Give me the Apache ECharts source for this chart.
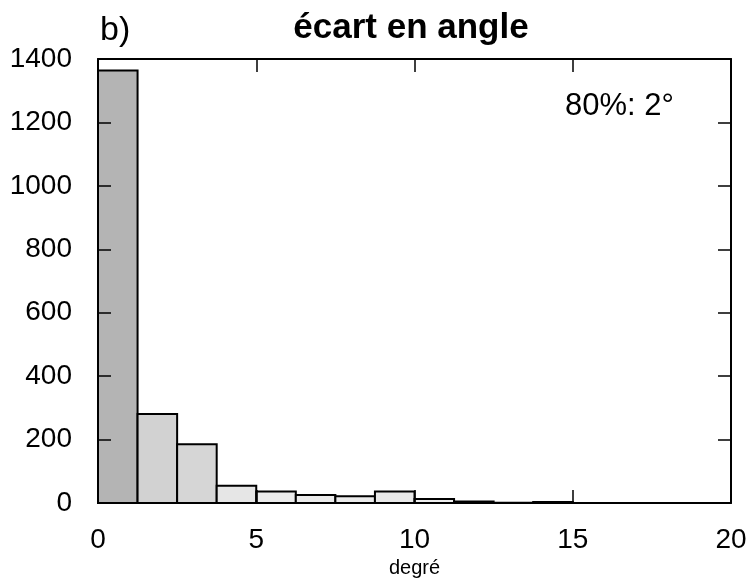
<!DOCTYPE html>
<html><head><meta charset="utf-8">
<script src="https://cdn.jsdelivr.net/npm/echarts@6/dist/echarts.min.js"></script>
<style>html,body{margin:0;padding:0;background:#fff}#c{width:752px;height:580px}</style>
</head><body><div id="c"></div>
<script>
const binStarts = [0, 1.25, 2.5, 3.75, 5, 6.25, 7.5, 8.75, 10, 11.25, 12.5, 13.75, 15, 16.25, 17.5, 18.75];
const binEnds   = [1.25, 2.5, 3.75, 5, 6.25, 7.5, 8.75, 10, 11.25, 12.5, 13.75, 15, 16.25, 17.5, 18.75, 20];
const counts    = [1364, 281, 185, 54, 36, 25, 21, 36, 13, 5, 1, 3, 0, 0, 0, 0];
const fills     = ['#b4b4b4', '#d2d2d2', '#d6d6d6', '#e6e6e6', '#ebebeb', '#ebebeb', '#ebebeb', '#e8e8e8', '#eeeeee', '#eeeeee', '#eeeeee', '#eeeeee', '#eeeeee', '#eeeeee', '#eeeeee', '#eeeeee'];
const xTicks = [0, 5, 10, 15, 20];
const yTicks = [0, 200, 400, 600, 800, 1000, 1200, 1400];
const titleText = 'écart en angle';
const panelLabel = 'b)';
const noteText = '80%: 2°';
const xName = 'degré';

const data = binStarts.map((s, i) => [s, binEnds[i], counts[i], i]);
const font = 'Liberation Sans, Arial, Helvetica, sans-serif';
const chart = echarts.init(document.getElementById('c'));
const axisCommon = {
  zlevel: 1, z: 10,
  axisLine: { show: true, onZero: false, lineStyle: { color: '#000', width: 2 } },
  axisTick: { show: true, inside: true, length: 13, lineStyle: { color: '#000', width: 1.5 } },
  splitLine: { show: false }
};
chart.setOption({
  animation: false,
  backgroundColor: '#fff',
  grid: { left: 98, right: 21, top: 59, bottom: 77, containLabel: false, outerBoundsMode: 'none' },
  title: [
    { text: titleText, left: 406, top: 6, textAlign: 'center',
      textStyle: { fontFamily: font, fontWeight: 'bold', fontSize: 35, color: '#000' } },
    { text: panelLabel, left: 95, top: 9,
      textStyle: { fontFamily: font, fontWeight: 'normal', fontSize: 34, color: '#000' } },
    { text: noteText, left: 560, top: 86,
      textStyle: { fontFamily: font, fontWeight: 'normal', fontSize: 31, color: '#000' } }
  ],
  xAxis: [
    Object.assign({ type: 'value', min: xTicks[0], max: xTicks[xTicks.length - 1], interval: 5, position: 'bottom',
      name: xName, nameLocation: 'middle', nameGap: 52,
      nameTextStyle: { fontFamily: font, fontSize: 20, color: '#000' },
      axisLabel: { fontFamily: font, fontSize: 28, color: '#000', margin: 23, formatter: v => String(v) } }, axisCommon),
    Object.assign({ type: 'value', min: xTicks[0], max: xTicks[xTicks.length - 1], interval: 5, position: 'top',
      axisLabel: { show: false } }, axisCommon)
  ],
  yAxis: [
    Object.assign({ type: 'value', min: yTicks[0], max: yTicks[yTicks.length - 1], interval: 200, position: 'left',
      axisLabel: { fontFamily: font, fontSize: 28, color: '#000', margin: 26, formatter: v => String(v) } }, axisCommon),
    Object.assign({ type: 'value', min: yTicks[0], max: yTicks[yTicks.length - 1], interval: 200, position: 'right',
      axisLabel: { show: false } }, axisCommon)
  ],
  series: [{
    type: 'custom',
    z: 1,
    xAxisIndex: 0, yAxisIndex: 0,
    data: data,
    encode: { x: [0, 1], y: 2 },
    renderItem: function (params, api) {
      const p0 = api.coord([api.value(0), api.value(2)]);
      const p1 = api.coord([api.value(1), 0]);
      const idx = api.value(3);
      return {
        type: 'rect',
        shape: { x: p0[0], y: p0[1], width: p1[0] - p0[0], height: p1[1] - p0[1] },
        style: { fill: fills[idx], stroke: '#000', lineWidth: 2 }
      };
    }
  }]
});
</script></body></html>
